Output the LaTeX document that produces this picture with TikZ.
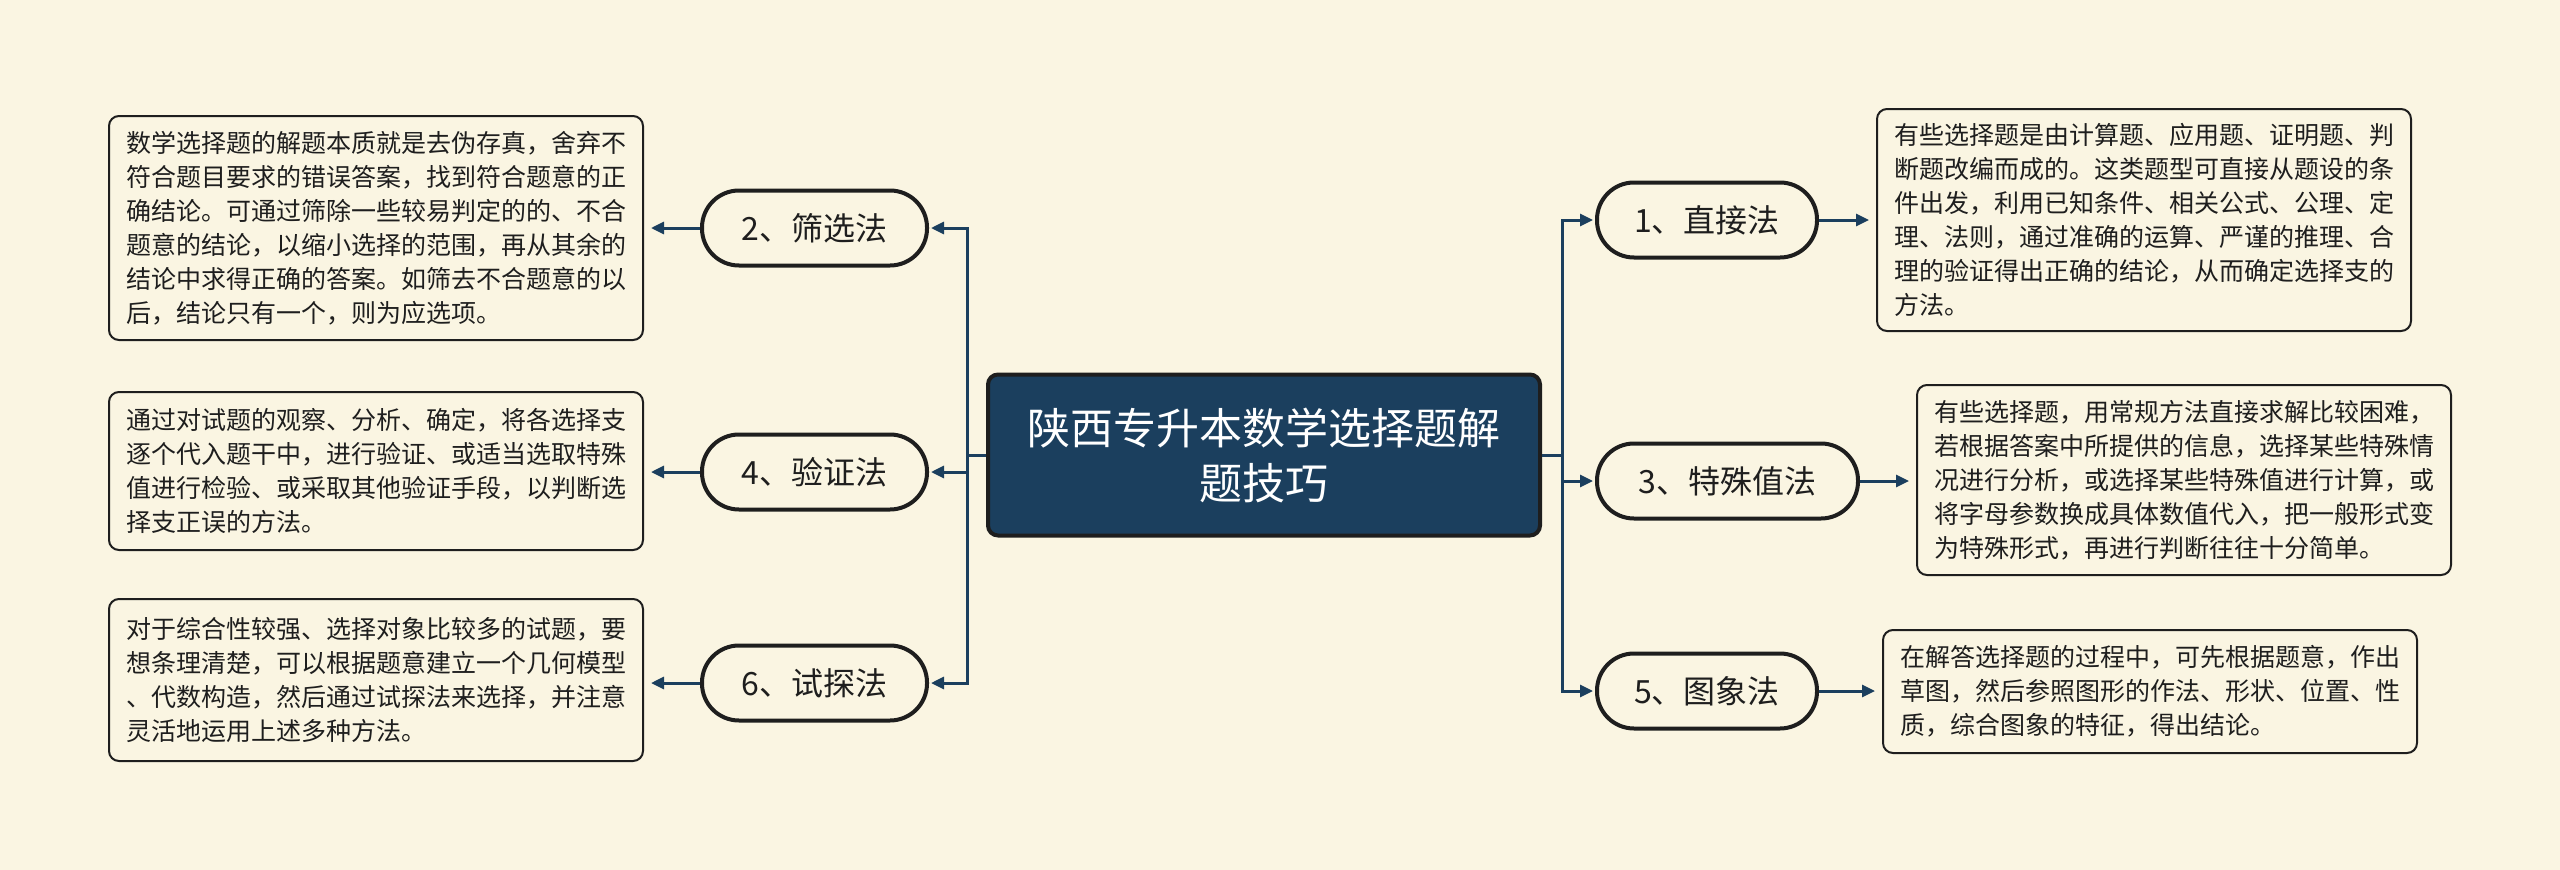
\documentclass[tikz,border=0pt]{standalone}
\usepackage{fontspec}
\setmainfont{Noto Sans CJK SC}
\usetikzlibrary{arrows.meta}
\definecolor{bg}{HTML}{FAF5E2}
\definecolor{navy}{HTML}{1B3F5E}
\definecolor{ink}{HTML}{1E1E1E}
\begin{document}
\begin{tikzpicture}[x=1pt,y=-1pt,
  root/.style={draw=ink,line width=4pt,fill=navy,rounded corners=10pt,minimum width=552pt,minimum height=161pt,text=white,font=\fontsize{43}{55}\selectfont,align=center,inner sep=0pt},
  pill/.style={draw=ink,line width=4pt,fill=bg,rounded corners=37pt,minimum height=75pt,inner sep=0pt,text=ink,font=\fontsize{32}{38}\selectfont},
  desc/.style={draw=ink,line width=2pt,fill=bg,rounded corners=10pt,align=left,inner xsep=13pt,inner ysep=0pt,minimum width=534pt,text=ink,font=\fontsize{25}{34}\selectfont},
  trunk/.style={draw=navy,line width=3pt},
  conn/.style={draw=navy,line width=3pt,-{Triangle[length=13pt,width=12pt]},shorten >=2pt},
  lead/.style={draw=navy,line width=3pt,-{Triangle[length=13pt,width=12pt]},shorten >=7pt}]
\fill[bg] (0,0) rectangle (2560,870);
\useasboundingbox (0,0) rectangle (2560,870);

\node[root] (c) at (1264,455) {陕西专升本数学选择题解\\题技巧};

\node[pill,minimum width=225pt] (p2) at (814.5,228) {2、筛选法};
\node[pill,minimum width=225pt] (p4) at (814.5,472) {4、验证法};
\node[pill,minimum width=225pt] (p6) at (814.5,683) {6、试探法};
\node[pill,minimum width=220pt] (p1) at (1707,220) {1、直接法};
\node[pill,minimum width=261pt] (p3) at (1727.5,481) {3、特殊值法};
\node[pill,minimum width=220pt] (p5) at (1707,691) {5、图象法};

\node[desc,minimum height=224pt] (l2) at (376,228) {数学选择题的解题本质就是去伪存真，舍弃不\\
符合题目要求的错误答案，找到符合题意的正\\
确结论。可通过筛除一些较易判定的的、不合\\
题意的结论，以缩小选择的范围，再从其余的\\
结论中求得正确的答案。如筛去不合题意的以\\
后，结论只有一个，则为应选项。};
\node[desc,minimum height=158pt] (l4) at (376,471) {通过对试题的观察、分析、确定，将各选择支\\
逐个代入题干中，进行验证、或适当选取特殊\\
值进行检验、或采取其他验证手段，以判断选\\
择支正误的方法。};
\node[desc,minimum height=162pt] (l6) at (376,680) {对于综合性较强、选择对象比较多的试题，要\\
想条理清楚，可以根据题意建立一个几何模型\\
、代数构造，然后通过试探法来选择，并注意\\
灵活地运用上述多种方法。};

\node[desc,minimum height=222pt] (r1) at (2144,220) {有些选择题是由计算题、应用题、证明题、判\\
断题改编而成的。这类题型可直接从题设的条\\
件出发，利用已知条件、相关公式、公理、定\\
理、法则，通过准确的运算、严谨的推理、合\\
理的验证得出正确的结论，从而确定选择支的\\
方法。};
\node[desc,minimum height=190pt] (r3) at (2184,480) {有些选择题，用常规方法直接求解比较困难，\\
若根据答案中所提供的信息，选择某些特殊情\\
况进行分析，或选择某些特殊值进行计算，或\\
将字母参数换成具体数值代入，把一般形式变\\
为特殊形式，再进行判断往往十分简单。};
\node[desc,minimum height=123pt] (r5) at (2150,691.5) {在解答选择题的过程中，可先根据题意，作出\\
草图，然后参照图形的作法、形状、位置、性\\
质，综合图象的特征，得出结论。};

\coordinate (lt) at (967,455);
\coordinate (rt) at (1562,455);
\draw[trunk] (c.west) -- (lt);
\draw[trunk] (c.east) -- (rt);
\draw[conn] (lt) |- (p2.east);
\draw[conn] (lt) |- (p4.east);
\draw[conn] (lt) |- (p6.east);
\draw[conn] (rt) |- (p1.west);
\draw[conn] (rt) |- (p3.west);
\draw[conn] (rt) |- (p5.west);

\draw[lead] (p2.west) -- (p2.west -| l2.east);
\draw[lead] (p4.west) -- (p4.west -| l4.east);
\draw[lead] (p6.west) -- (p6.west -| l6.east);
\draw[lead] (p1.east) -- (p1.east -| r1.west);
\draw[lead] (p3.east) -- (p3.east -| r3.west);
\draw[lead] (p5.east) -- (p5.east -| r5.west);
\end{tikzpicture}
\end{document}
